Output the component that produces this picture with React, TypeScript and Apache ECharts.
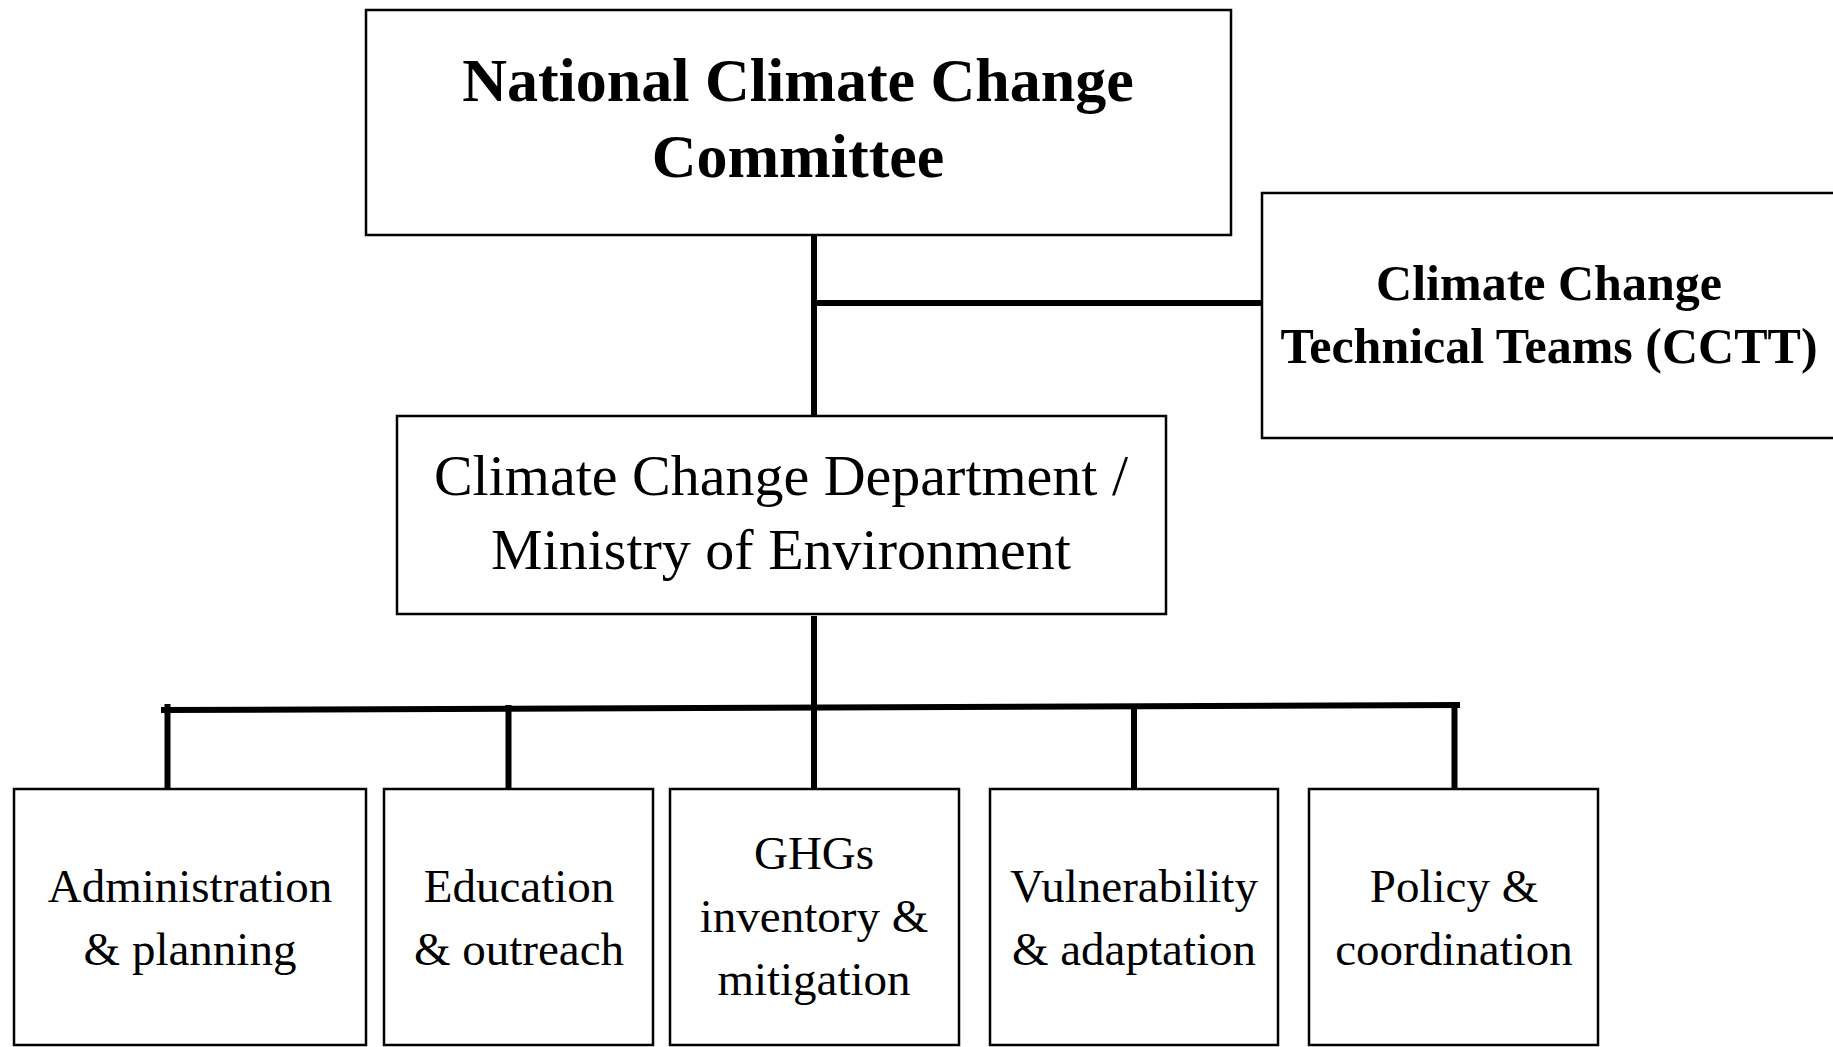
import React, { useEffect, useRef } from "react";
import * as echarts from "echarts";

// ---- Data: organisation units and hierarchy ----
const nodeLabels: string[] = [
  "National Climate Change\nCommittee",
  "Climate Change\nTechnical Teams (CCTT)",
  "Climate Change Department /\nMinistry of Environment",
  "Administration\n& planning",
  "Education\n& outreach",
  "GHGs\ninventory &\nmitigation",
  "Vulnerability\n& adaptation",
  "Policy &\ncoordination",
];
const nodeParents: number[] = [-1, 0, 0, 2, 2, 2, 2, 2];
const nodeLevels: number[] = [0, 1, 1, 2, 2, 2, 2, 2];

// ---- Layout (canvas units = pixels) ----
const W = 1833;
const H = 1047;
const boxLayout: number[][] = [
  [366, 10, 1231, 235],
  [1262, 193, 1850, 438],
  [397, 416, 1166, 614],
  [14, 789, 366, 1045],
  [384, 789, 653, 1045],
  [670, 789, 959, 1045],
  [990, 789, 1278, 1045],
  [1309, 789, 1598, 1045],
];
const textCenters: number[][] = [
  [798, 118],
  [1549, 314],
  [781, 512],
  [190, 917],
  [519, 917],
  [814, 916],
  [1134, 917],
  [1454, 917],
];
const textStyles = [
  { weight: "bold", size: 62, lh: 76 },
  { weight: "bold", size: 50, lh: 63 },
  { weight: "normal", size: 58, lh: 74 },
  { weight: "normal", size: 47, lh: 63 },
  { weight: "normal", size: 47, lh: 63 },
  { weight: "normal", size: 47, lh: 63 },
  { weight: "normal", size: 47, lh: 63 },
  { weight: "normal", size: 47, lh: 63 },
];
const connectorLayout: number[][] = [
  [814, 235, 814, 416],
  [814, 303, 1262, 303],
  [814, 619, 814, 710],
  [164, 710, 1457, 705],
  [167.5, 707, 167.5, 789],
  [508.5, 708, 508.5, 792],
  [814, 708, 814, 789],
  [1134, 707, 1134, 792],
  [1454.5, 705, 1454.5, 789],
];

const FONT = '"Liberation Serif", "Times New Roman", serif';

export default function App() {
  const ref = useRef<HTMLDivElement>(null);
  useEffect(() => {
    document.body.style.margin = "0";
    if (!ref.current) return;
    const chart = echarts.init(ref.current, undefined, { renderer: "svg" });
    const option: any = {
      animation: false,
      backgroundColor: "#ffffff",
      grid: { left: 0, right: 0, top: 0, bottom: 0 },
      xAxis: { type: "value", min: 0, max: W, show: false },
      yAxis: { type: "value", min: 0, max: H, inverse: true, show: false },
      series: [
        {
          type: "custom",
          name: "connectors",
          coordinateSystem: "cartesian2d",
          silent: true,
          z: 1,
          data: connectorLayout.map((_, i) => [i]),
          renderItem: (params: any, api: any) => {
            const c = connectorLayout[api.value(0)];
            const a = api.coord([c[0], c[1]]);
            const b = api.coord([c[2], c[3]]);
            return {
              type: "line",
              shape: { x1: a[0], y1: a[1], x2: b[0], y2: b[1] },
              style: { stroke: "#000000", lineWidth: 6, lineCap: "square" },
            };
          },
        },
        {
          type: "custom",
          name: "units",
          coordinateSystem: "cartesian2d",
          silent: true,
          z: 2,
          data: nodeLabels.map((_, i) => [i, nodeParents[i], nodeLevels[i]]),
          renderItem: (params: any, api: any) => {
            const i = api.value(0);
            const b = boxLayout[i];
            const p0 = api.coord([b[0], b[1]]);
            const p1 = api.coord([b[2], b[3]]);
            const tc = api.coord(textCenters[i]);
            const ts = textStyles[i];
            return {
              type: "group",
              children: [
                {
                  type: "rect",
                  shape: { x: p0[0], y: p0[1], width: p1[0] - p0[0], height: p1[1] - p0[1] },
                  style: { fill: "#ffffff", stroke: "#000000", lineWidth: 2.5 },
                },
                {
                  type: "text",
                  style: {
                    text: nodeLabels[i],
                    x: tc[0],
                    y: tc[1],
                    align: "center",
                    verticalAlign: "middle",
                    fontFamily: FONT,
                    fontWeight: ts.weight,
                    fontSize: ts.size,
                    lineHeight: ts.lh,
                    fill: "#000000",
                  },
                },
              ],
            };
          },
        },
      ],
    };
    chart.setOption(option);
    return () => chart.dispose();
  }, []);
  return (
    <div
      ref={ref}
      style={{ position: "absolute", left: 0, top: 0, width: W, height: H, background: "#fff" }}
    />
  );
}
